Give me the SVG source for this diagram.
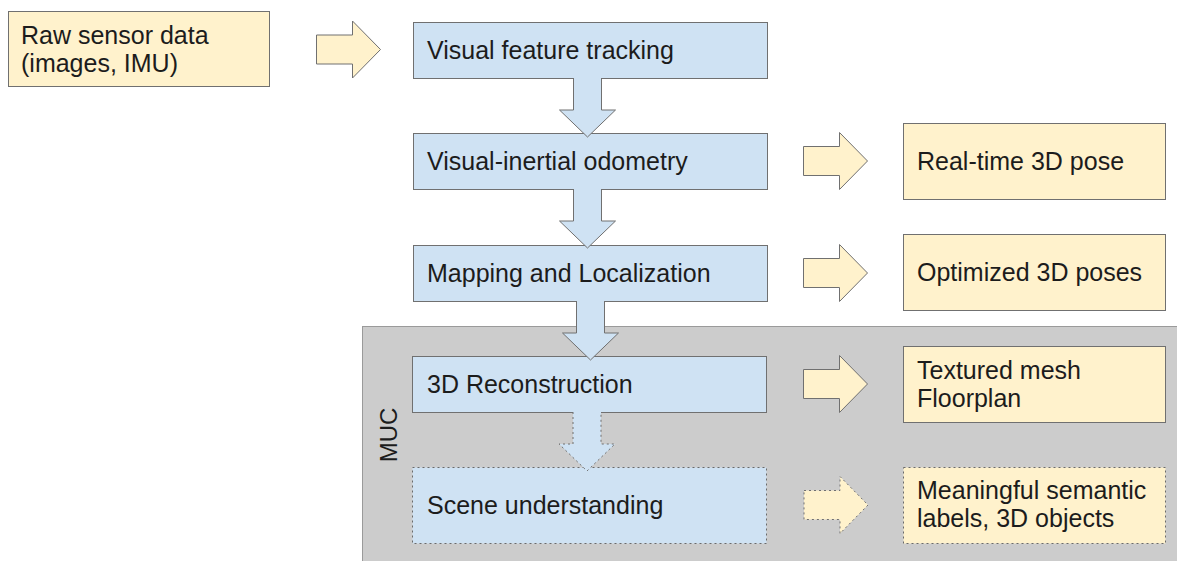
<svg xmlns="http://www.w3.org/2000/svg" width="1177" height="561" viewBox="0 0 1177 561">
  <style>
    text { font-family: "Liberation Sans", Arial, sans-serif; font-size: 25px; fill: #1c1c1c; }
    .stage { fill: #cfe2f3; stroke: #707070; stroke-width: 1; }
    .out { fill: #fff2cc; stroke: #707070; stroke-width: 1; }
    .dotted { stroke-dasharray: 2 3; stroke: #6a6a6a; }
    .flow { fill: #cfe2f3; stroke: #707070; stroke-width: 1; }
    .emit { fill: #fff2cc; stroke: #707070; stroke-width: 1; }
  </style>
  <defs>
    <!-- block arrow pointing right, origin at left-middle -->
    <path id="rightArrow" d="M0,-14.5 H36 V-28.5 L64,0 L36,28.5 V14.5 H0 Z"/>
    <!-- block arrow pointing down, origin at top-middle, open at the top -->
    <path id="downArrow" d="M-14,-1 V31 H-28 L0,58 L28,31 H14 V-1"/>
  </defs>

  <rect x="0" y="0" width="1177" height="561" fill="#ffffff"/>

  <!-- MUC region -->
  <g id="muc">
    <rect x="362.5" y="326.5" width="830" height="250" fill="#cccccc" stroke="#9a9a9a" stroke-width="1"/>
    <text transform="translate(397,435) rotate(-90)" text-anchor="middle" style="font-size:24px">MUC</text>
  </g>

  <!-- input -->
  <g id="raw-sensor-data">
    <rect class="out" x="8.5" y="11.5" width="261" height="75"/>
    <text x="21" y="44">Raw sensor data</text>
    <text x="21" y="72">(images, IMU)</text>
  </g>

  <!-- processing stages -->
  <g id="visual-feature-tracking">
    <rect class="stage" x="413.5" y="22.5" width="354" height="56"/>
    <text x="427" y="59">Visual feature tracking</text>
  </g>
  <g id="visual-inertial-odometry">
    <rect class="stage" x="413.5" y="133.5" width="354" height="56"/>
    <text x="427" y="170">Visual-inertial odometry</text>
  </g>
  <g id="mapping-localization">
    <rect class="stage" x="413.5" y="245.5" width="354" height="56"/>
    <text x="427" y="282">Mapping and Localization</text>
  </g>
  <g id="reconstruction-3d">
    <rect class="stage" x="412.5" y="356.5" width="354" height="56"/>
    <text x="427" y="393">3D Reconstruction</text>
  </g>
  <g id="scene-understanding">
    <rect class="stage dotted" x="412.5" y="467.5" width="354" height="76"/>
    <text x="427" y="514">Scene understanding</text>
  </g>

  <!-- outputs -->
  <g id="real-time-pose">
    <rect class="out" x="903.5" y="123.5" width="262" height="76"/>
    <text x="917" y="170">Real-time 3D pose</text>
  </g>
  <g id="optimized-poses">
    <rect class="out" x="903.5" y="234.5" width="262" height="76"/>
    <text x="917" y="281">Optimized 3D poses</text>
  </g>
  <g id="textured-mesh">
    <rect class="out" x="903.5" y="346.5" width="262" height="76"/>
    <text x="917" y="379">Textured mesh</text>
    <text x="917" y="407">Floorplan</text>
  </g>
  <g id="semantic-labels">
    <rect class="out dotted" x="903.5" y="467.5" width="262" height="76"/>
    <text x="917" y="499">Meaningful semantic</text>
    <text x="917" y="527">labels, 3D objects</text>
  </g>

  <!-- connectors -->
  <g id="connectors">
    <use href="#rightArrow" class="emit" transform="translate(316.5,49.5)"/>
    <use href="#downArrow" class="flow" transform="translate(587.5,79)"/>
    <use href="#downArrow" class="flow" transform="translate(587.5,190)"/>
    <use href="#downArrow" class="flow" transform="translate(590.5,302)"/>
    <use href="#downArrow" class="flow dotted" transform="translate(587,413)"/>
    <use href="#rightArrow" class="emit" transform="translate(803.5,161)"/>
    <use href="#rightArrow" class="emit" transform="translate(803.5,273)"/>
    <use href="#rightArrow" class="emit" transform="translate(803.5,384)"/>
    <use href="#rightArrow" class="emit dotted" transform="translate(804,505)"/>
  </g>
</svg>
